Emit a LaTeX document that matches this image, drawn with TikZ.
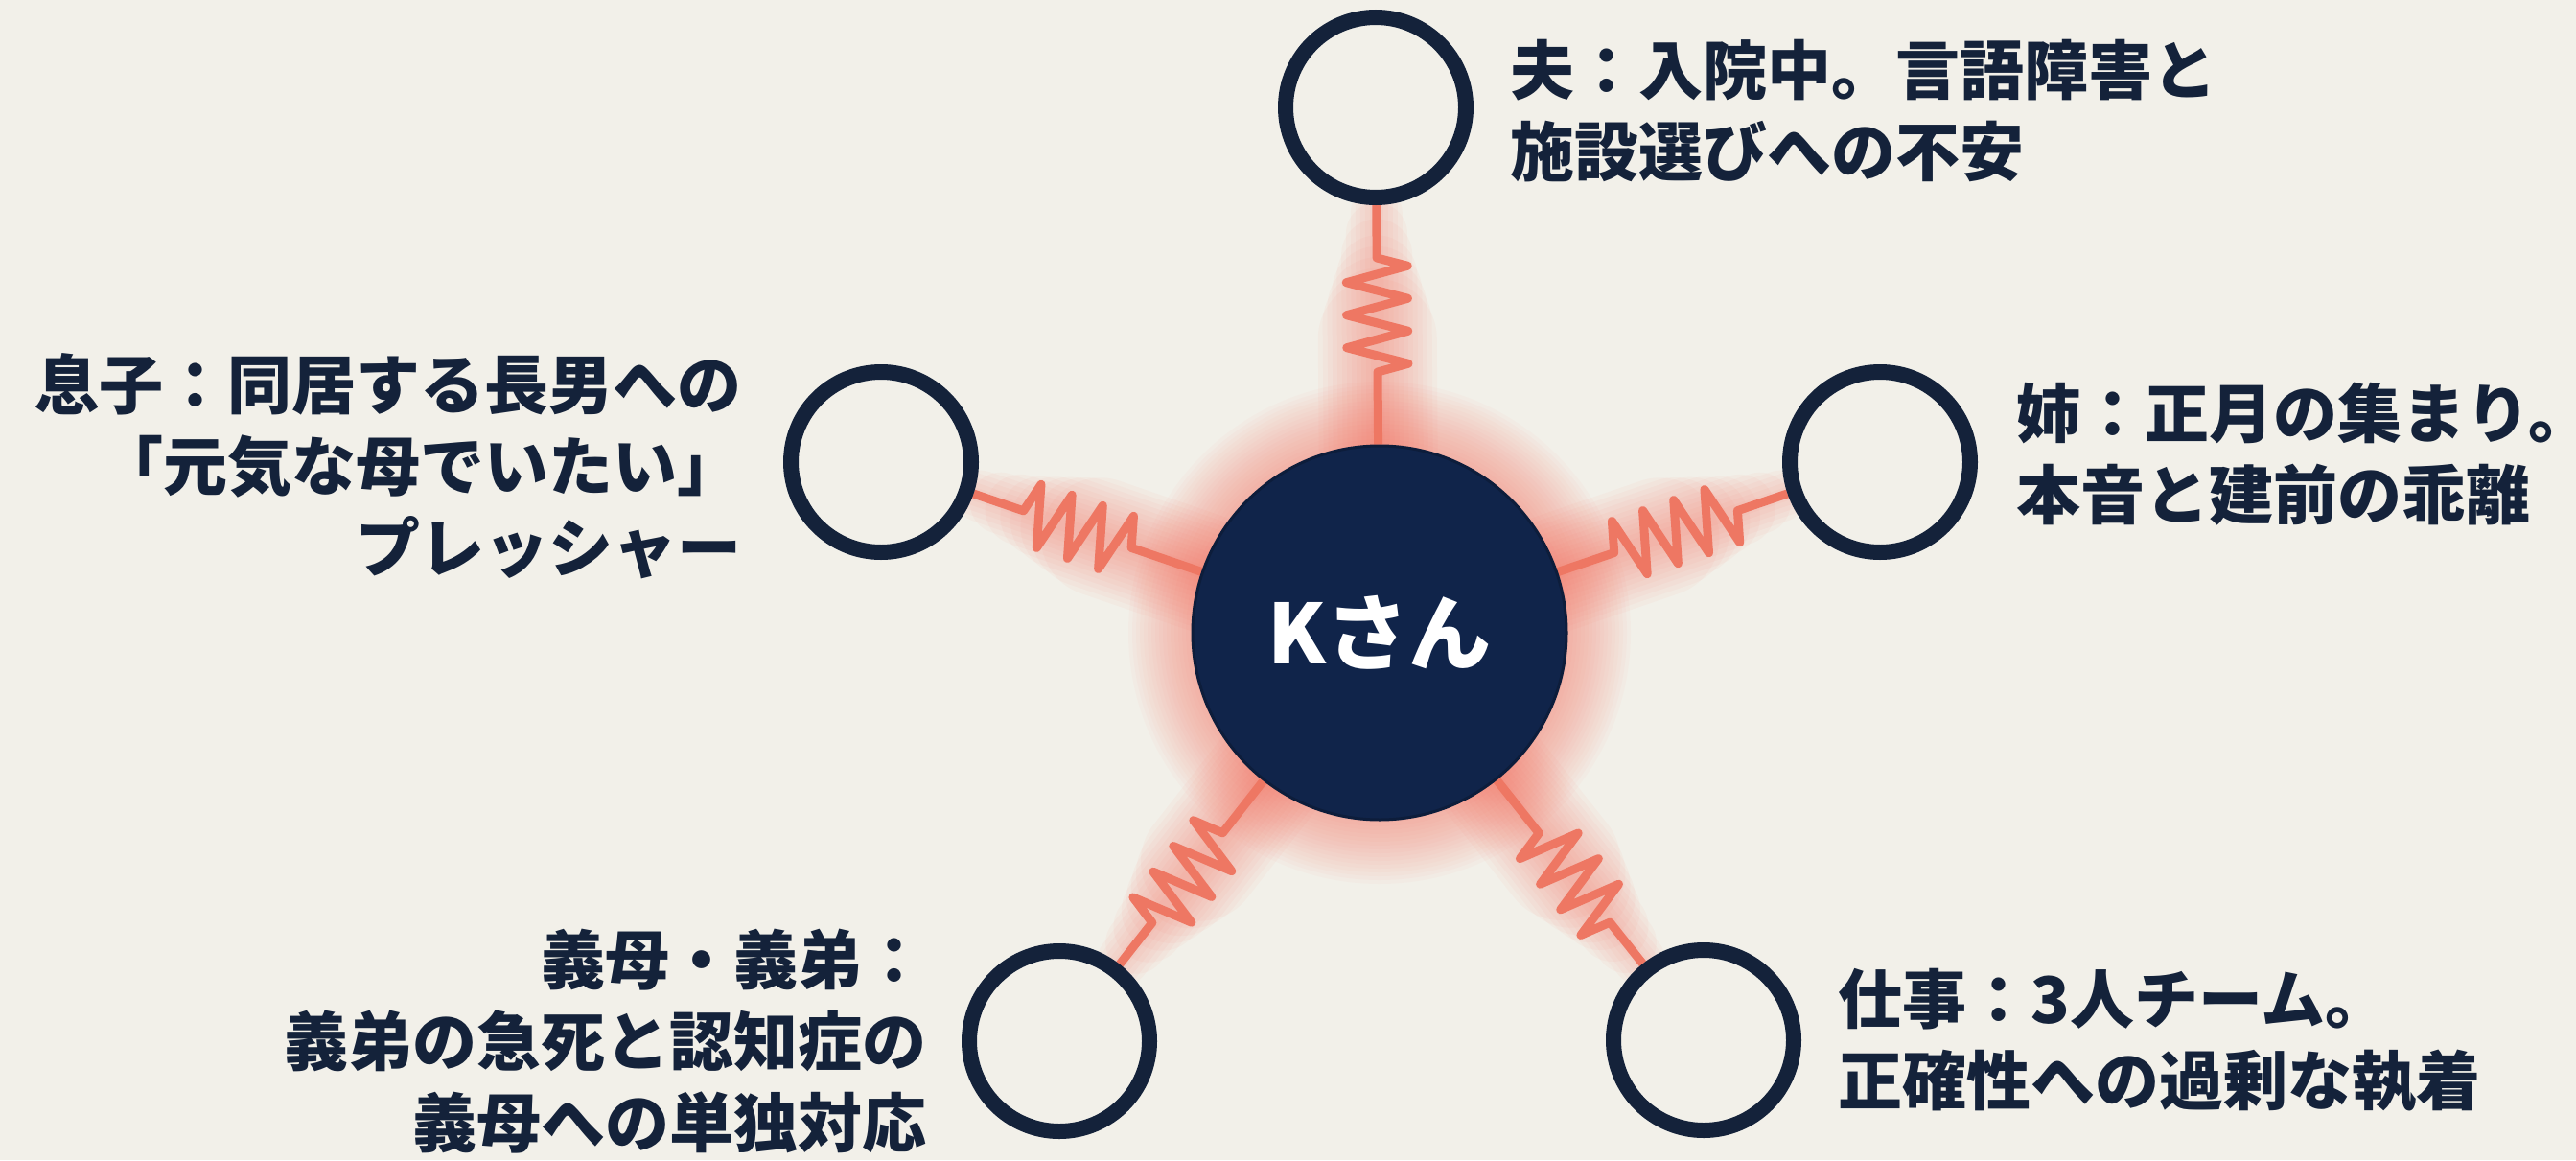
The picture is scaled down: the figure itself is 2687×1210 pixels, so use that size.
\documentclass[tikz,border=0pt]{standalone}
\usepackage{fontspec}
\setmainfont{Noto Sans CJK JP}
\usetikzlibrary{decorations.pathmorphing,calc}
\definecolor{bgc}{HTML}{F2F0E9}
\definecolor{navyc}{HTML}{10244A}
\definecolor{ringc}{HTML}{14223A}
\definecolor{sprc}{HTML}{EE7763}
\definecolor{glowc}{HTML}{F46A58}
\pgfdeclarelayer{base}
\pgfdeclarelayer{glowl}
\pgfsetlayers{base,glowl,main}
\begin{document}
\begin{tikzpicture}[x=1pt,y=-1pt,
  ringnode/.style={circle, draw=ringc, line width=16pt, fill=bgc, minimum size=188pt, inner sep=0pt},
  core/.style={circle, draw=navyc!80!black, line width=3pt, fill=navyc, minimum size=390pt, inner sep=0pt, text=white, font=\fontsize{86}{90}\selectfont\bfseries},
  lbl/.style={inner sep=0pt, text=ringc, font=\fontsize{67}{85}\selectfont\bfseries},
  springline/.style={draw=sprc, line width=9pt, line join=round, decorate, decoration={zigzag, segment length=34pt, amplitude=32pt, pre length=55pt, post length=62pt}},
  glowline/.style={draw=glowc, line cap=round, opacity=0.045}
]
\useasboundingbox (0,0) rectangle (2687,1210);
% nodes
\node[core] (K) at (1439,660) {Kさん};
\node[ringnode] (T) at (1435,112) {};
\node[ringnode] (R) at (1961,482) {};
\node[ringnode] (L) at (919,482) {};
\node[ringnode] (BL) at (1105,1086) {};
\node[ringnode] (BR) at (1777,1085) {};
% labels
\node[lbl, anchor=west, align=left] (tT) at (1575,116) {夫：入院中。言語障害と\\施設選びへの不安};
\node[lbl, anchor=west, align=left] (tR) at (2103,474) {姉：正月の集まり。\\本音と建前の乖離};
\node[lbl, anchor=east, align=right] (tL) at (774,486) {息子：同居する長男への\\「元気な母でいたい」\\プレッシャー};
\node[lbl, anchor=east, align=right] (tBL) at (967,1086) {義母・義弟：\\義弟の急死と認知症の\\義母への単独対応};
\node[lbl, anchor=west, align=left] (tBR) at (1917,1085) {仕事：3人チーム。\\正確性への過剰な執着};
\begin{pgfonlayer}{base}
  \fill[bgc] (0,0) rectangle (2687,1210);
\end{pgfonlayer}
\begin{pgfonlayer}{glowl}
  \foreach \r in {198,202,...,262}
    \fill[glowc, opacity=0.032] (K.center) circle (\r);
  \foreach \n in {T,R,L,BL,BR}{
    \foreach \w/\f in {14/0.95, 24/0.92, 34/0.88, 44/0.84, 54/0.8, 64/0.76, 74/0.72, 84/0.68, 94/0.65, 104/0.62, 114/0.59, 124/0.56}
      \draw[glowline, line width=\w pt] (K.center) -- ($(K.center)!\f!(\n.center)$);
  }
  \foreach \n in {T,R,L,BL,BR}
    \draw[springline] (\n) -- (K);
\end{pgfonlayer}
\end{tikzpicture}
\end{document}
